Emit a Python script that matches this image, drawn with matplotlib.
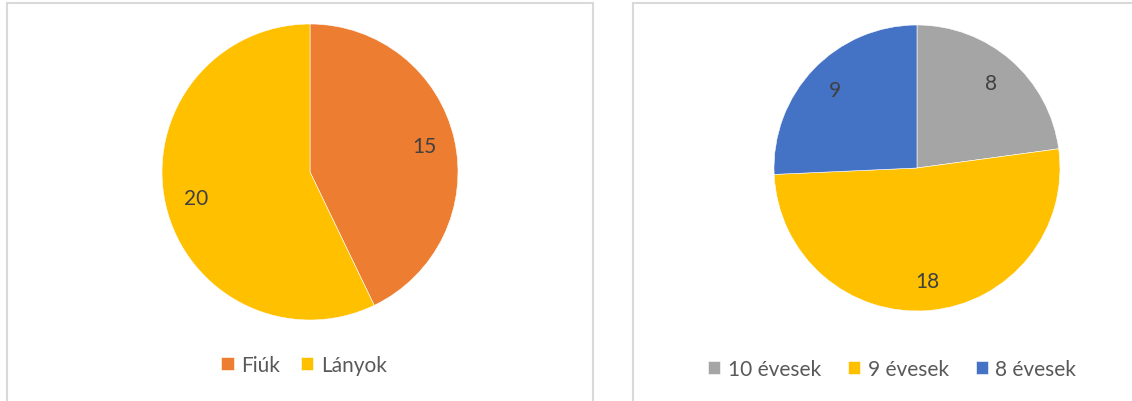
import matplotlib
matplotlib.use('Agg')
import matplotlib.pyplot as plt
from matplotlib.patches import Rectangle

plt.rcParams['font.family'] = ['Lato', 'DejaVu Sans']

### DATA ###
gender_labels = ['Fiúk', 'Lányok']
gender_values = [15, 20]
gender_colors = ['#ED7D31', '#FFC000']

age_labels = ['10 évesek', '9 évesek', '8 évesek']
age_values = [8, 18, 9]
age_colors = ['#A5A5A5', '#FFC000', '#4472C4']

W, H = 1132, 402

def px_axes(fig, cx, cy, r):
	# axes square around a pie centre given in pixels from top-left
	return fig.add_axes([(cx - r)/W, (H - cy - r)/H, 2*r/W, 2*r/H])

def draw_pie(ax, values, colors):
	wedges, _, autotexts = ax.pie(values, colors=colors, startangle=90, counterclock=False,
	                              autopct=lambda p: '%d' % round(p*sum(values)/100.0),
	                              pctdistance=0.79, radius=1.0,
	                              wedgeprops={'edgecolor': 'white', 'linewidth': 0.4},
	                              textprops={'fontsize': 15, 'color': '#404040'})
	ax.set_xlim(-1, 1)
	ax.set_ylim(-1, 1)
	ax.set_aspect('equal')
	ax.axis('off')
	return wedges

fig = plt.figure(figsize=(W/100, H/100), dpi=100)

# chart frames
for x0, x1 in [(7, 593), (633, 1140)]:
	fig.patches.append(Rectangle((x0/W, -0.05), (x1 - x0)/W, (H - 4)/H + 0.05,
	                             transform=fig.transFigure, fill=False,
	                             edgecolor='#D9D9D9', linewidth=1.5))

ax1 = px_axes(fig, 310, 173, 148)
w1 = draw_pie(ax1, gender_values, gender_colors)

ax2 = px_axes(fig, 917, 169, 143)
w2 = draw_pie(ax2, age_values, age_colors)

legend_kw = dict(loc='center', bbox_transform=fig.transFigure, frameon=False,
                 handlelength=0.6, handleheight=0.6, handletextpad=0.35,
                 fontsize=15, labelcolor='#595959')
fig.legend(w1, gender_labels, bbox_to_anchor=(304/W, 1 - 366/H), ncol=2,
           columnspacing=1.0, **legend_kw)
fig.legend(w2, age_labels, bbox_to_anchor=(892/W, 1 - 370/H), ncol=3,
           columnspacing=1.3, **legend_kw)

fig.savefig('out.png', dpi=100)
